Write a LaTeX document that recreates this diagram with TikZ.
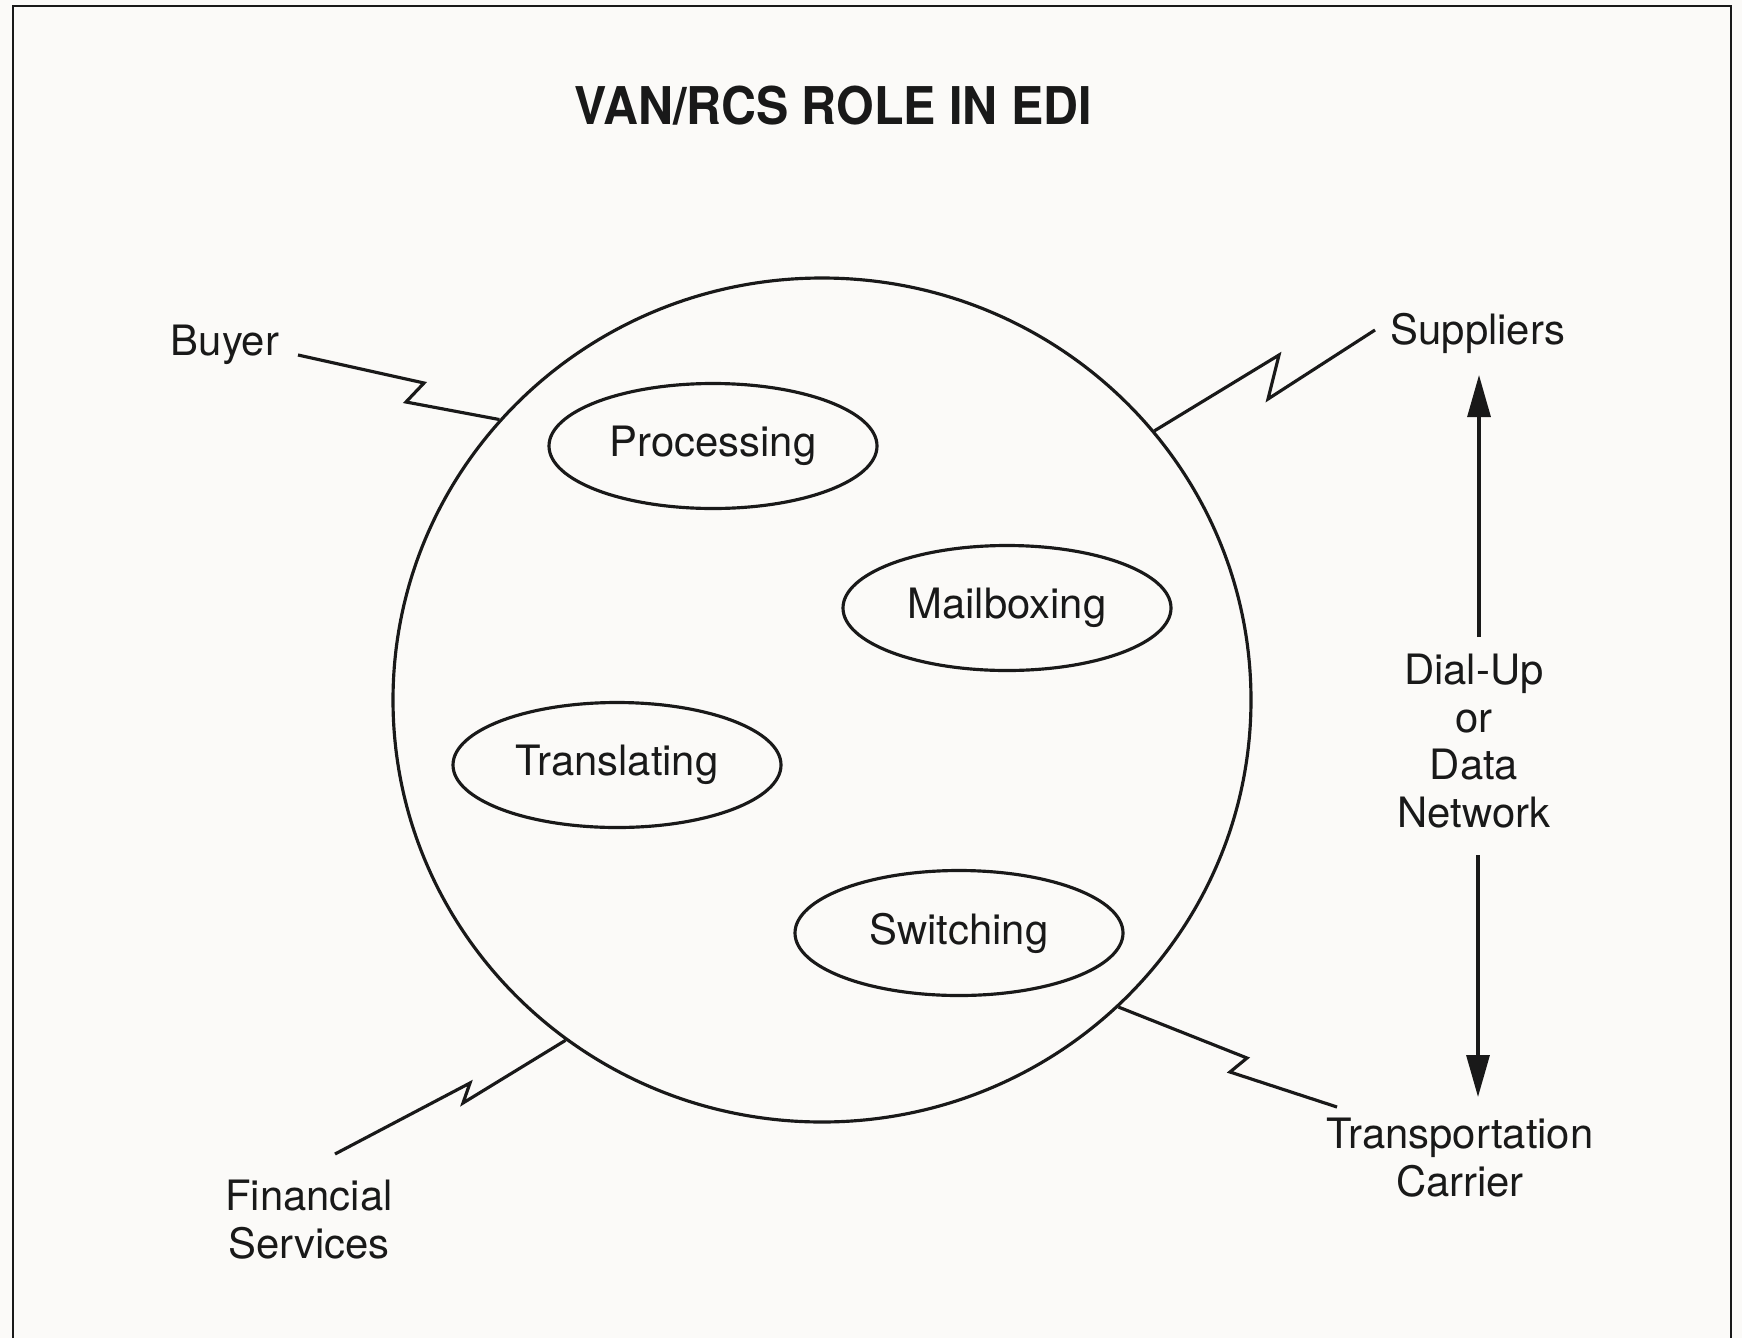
\documentclass[tikz,border=0pt]{standalone}
\usepackage{fontspec}
\setmainfont{TeX Gyre Heros}
\newfontfamily\titlefont[FakeStretch=0.93]{TeX Gyre Heros}
\usetikzlibrary{shapes.geometric,arrows.meta}
\definecolor{paper}{RGB}{251,250,248}
\definecolor{ink}{RGB}{25,25,25}
\tikzset{
  link/.style={draw=ink,line width=0.9pt,line join=miter},
  task/.style={draw=ink,line width=0.9pt,ellipse,minimum width=32.8mm,minimum height=12.5mm,inner sep=0pt,text=ink,font=\fontsize{11.9}{13.5}\selectfont},
  lbl/.style={text=ink,inner sep=0pt,align=center,anchor=base,font=\fontsize{11.9}{13.5}\selectfont},
  flow/.style={draw=ink,line width=0.9pt,-{Triangle[length=4.2mm,width=2.3mm]}},
}
\begin{document}
\begin{tikzpicture}[x=0.1mm,y=-0.1mm]
\fill[paper] (0,0) rectangle (1742,1338);
\useasboundingbox (0,0) rectangle (1742,1338);
\draw[ink,line width=0.6pt] (13,1338) -- (13,6) -- (1731,6) -- (1731,1338);

\node[anchor=base,text=ink,inner sep=0pt,font=\titlefont\bfseries\fontsize{14.8}{18}\selectfont] (title) at (833,124) {VAN/RCS ROLE IN EDI};

\node[draw=ink,line width=0.9pt,ellipse,minimum width=85.8mm,minimum height=84.4mm,inner sep=0pt] (van) at (822,700) {};

\node[task] (proc) at (713,446) {Processing};
\node[task] (mail) at (1007,608) {Mailboxing};
\node[task] (trans) at (617,765) {Translating};
\node[task] (switch) at (959,933) {Switching};

\node[lbl] (buyer) at (225,355) {Buyer};
\node[lbl] (supp) at (1478,344) {Suppliers};
\node[lbl] (net) at (1474,827) {Dial-Up\\or\\Data\\Network};
\node[lbl] (carrier) at (1460,1196) {Transportation\\Carrier};
\node[lbl] (fin) at (309,1258) {Financial\\Services};

\coordinate (buyerend) at (298,355);
\coordinate (suppend) at (1375,330);
\coordinate (finend) at (335,1154);
\coordinate (carrend) at (1337,1107);

\draw[link] (buyerend) -- (424,383) -- (406,402) -- (van.139);
\draw[link] (van.39.5) -- (1279,355) -- (1268,399) -- (suppend);
\draw[link] (van.233.9) -- (463,1103) -- (470,1083) -- (finend);
\draw[link] (van.-46.6) -- (1247,1058) -- (1230,1072) -- (carrend);

\coordinate (nettop) at (1479,637);
\coordinate (netbot) at (1478,855);
\coordinate (supptip) at (1479,375);
\coordinate (carrtip) at (1478,1097);
\draw[flow] (nettop) -- (supptip);
\draw[flow] (netbot) -- (carrtip);
\end{tikzpicture}
\end{document}
